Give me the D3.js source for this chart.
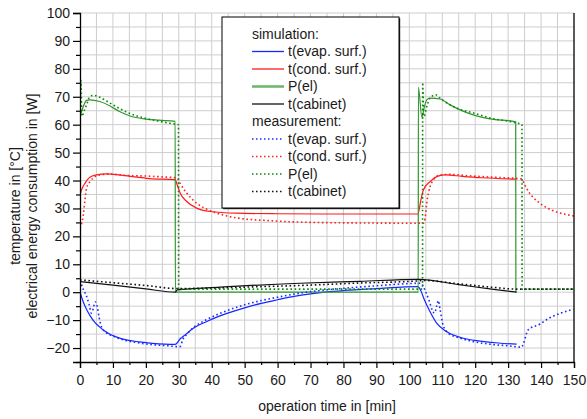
<!DOCTYPE html>
<html>
<head>
<meta charset="utf-8">
<script src="https://cdn.jsdelivr.net/npm/d3@7"></script>
<style>
  body { margin: 0; background: #fff; }
  svg text { font-family: "Liberation Sans", Arial, Helvetica, sans-serif; fill: #1a1a1a; }
</style>
</head>
<body>
<div id="chart"></div>
<script>
// [time in min, value]
const sim_evap = [[0,0],[1,-3.5],[2,-6.2],[3,-8.3],[4.5,-10.8],[6,-12.5],[7.5,-13.9],[9,-15],[11,-16],[14,-17.1],[18,-17.8],[22,-18.3],[28.9,-18.7],
  [30.5,-16.6],[32,-15.2],[34.4,-12.9],[38.5,-10.5],[42.5,-8.5],[50,-5.6],[55,-4],[60,-2.7],[65,-1.5],[70,-0.6],[75,0.1],[80,0.6],
  [90,1.3],[102.6,2],
  [103.5,0.5],[104.5,-2.5],[106.3,-7],[108.3,-11.1],[111.3,-14.1],[116.4,-16.5],[121.5,-17.5],[127,-18.2],[132.6,-18.6]]
const sim_cond = [[0,34.9],[0.7,37.3],[1.5,39],[3,41.2],[5,42],[8,42.4],[12,42],[16,41.4],[21,40.7],[28.9,40.3],[29.5,38.5],[30.4,35.5],
  [32.4,32.5],[35.4,30.1],[39.5,28.9],[47.6,28.3],[60,28.1],[80,28],[102.6,28],[103.5,33],[104.3,36.7],[106.3,39.6],[108.5,41.5],
  [111,42],[116,41.5],[122,41],[132.6,40.5]]
const sim_pel = [[0,62.9],[1,66.5],[2,68.7],[3,68.9],[6,68.3],[9,66.8],[12,64.7],[15,63.2],[20,62],[24,61.6],[28.9,61.2],[28.95,0],
  [102.7,0],[102.75,73.5],[103.8,62.7],[104.5,66],[105.3,68.9],[106.3,69.5],[109.3,69.2],[112.4,67.1],[115.4,65.3],[119.4,63.5],
  [124.5,62.1],[132.3,61],[132.35,0]]
const sim_cab = [[0,3.8],[10,2.5],[20,1.2],[28.9,0],[29.5,0.8],[42.5,1.8],[66.8,3.2],[85,3.9],[102.7,4.6],[115,2.7],[125,1.1],[132.6,0]]

const meas_evap = [[0,4.2],[1,1],[2,-1.5],[2.8,-4.5],[3.5,-7.5],[4,-6],[4.6,-3.5],[5.2,-5],[5.8,-9],[6.5,-12.3],[8,-14.5],[10,-15.7],
  [13,-17],[17,-18],[22,-18.8],[27,-19.2],[29.5,-19.5],[30.4,-19.5],[31.2,-17],[32.5,-15],[34.5,-12.6],[38.5,-9.8],[42.5,-7.6],
  [50,-4.5],[55,-3],[60,-1.8],[65,-0.7],[70,0.2],[80,1.4],[90,2.3],[103.5,3.2],[105,0],[106,-3],[107,-6.5],[107.6,-7.5],[108.3,-5],[108.8,-3],
  [109.3,-6],[110.3,-12],[112,-14.8],[115,-16.3],[120,-17.8],[125,-18.7],[130,-19.2],[134,-19.7],[136.1,-13.5],[139.7,-11.4],
  [142,-9.6],[145.8,-7.6],[149.8,-6.1]]
const meas_cond = [[0,23],[1,27.7],[1.5,33],[2,37.3],[3,39.6],[4,40.9],[6,42],[9,42.3],[14,41.8],[20,41.6],[25,41.3],[29.5,40.9],
  [30.4,39],[32.4,35.5],[35.4,31.9],[39.5,29.2],[43,27.8],[47.6,26.6],[57.7,25.6],[70,25],[85,24.8],[104.3,24.7],[104.8,26.5],
  [105.3,31.9],[106.3,37.8],[107.3,40.2],[109,41.8],[112,42.2],[118,41.7],[125,41.2],[134,40.6],[135,38.5],[136.5,35.5],
  [139.5,32],[143,29.5],[147,28],[150,27.3]]
const meas_pel = [[0,64],[0.25,76],[0.6,63],[1.2,64.8],[2,67.1],[3,70.1],[4,70.5],[6,69.8],[9,67.8],[14.2,64.5],[20.2,62.2],[25,61],[28.3,60.3],
  [29.9,60],[29.95,1.1],[104,1.1],[104.05,75.1],[104.4,62.9],[105.3,66.5],[106.3,69.5],[108,70.7],[109.3,69.5],[114.4,65.9],
  [119.4,64.2],[124.5,62.4],[132.6,60.6],[134.2,60],[134.25,1.1],[150,1.1]]
const meas_cab = [[0,4.4],[10,3.4],[20,2.4],[29.5,1.3],[40,1.5],[55,2],[66.8,2.4],[85,3.3],[102,4],[104.4,4.2],[115,3],[125,1.8],
  [132.6,1.1],[150,1.1]]

const series_names = ["t(evap. surf.)", "t(cond. surf.)", "P(el)", "t(cabinet)"]
const x_ticks = d3.range(0, 151, 10)
const y_ticks = d3.range(-20, 101, 10)

class CoolingChart {
  constructor(id) {
    this.width = 587
    this.height = 419
    this.margin = { left: 80, right: 13, top: 13, bottom: 57 }
    this.container = document.getElementById(id)
    this.colors = ["#1428ff", "#ff1a1a", "#2f962f", "#111111"]
    this.dot_colors = ["#1a2cff", "#ff2020", "#0a880a", "#111111"]
  }

  render() {
    console.log('- Init CoolingChart...')
    const svg = d3.select(this.container).append("svg")
      .attr("width", this.width)
      .attr("height", this.height)
    this.svg = svg
    this.x = d3.scaleLinear().domain([0, 150]).range([this.margin.left, this.width - this.margin.right])
    this.y = d3.scaleLinear().domain([-25, 100]).range([this.height - this.margin.bottom, this.margin.top])
    this.draw_grid()
    this.draw_lines()
    this.draw_axes()
    this.draw_legend()
    console.log('- Init CoolingChart [OK]')
  }

  draw_grid() {
    const x = this.x, y = this.y
    const grid = this.svg.append("g").attr("stroke", "#cdcdcd").attr("stroke-width", 1)
    d3.range(5, 150, 5).forEach(v => {
      grid.append("line").attr("x1", x(v)).attr("x2", x(v)).attr("y1", y(-25)).attr("y2", y(100))
    })
    d3.range(-20, 101, 5).forEach(v => {
      grid.append("line").attr("x1", x(0)).attr("x2", x(150)).attr("y1", y(v)).attr("y2", y(v))
    })
  }

  draw_lines() {
    const x = this.x, y = this.y
    this.svg.append("clipPath").attr("id", "plot_clip")
      .append("rect")
      .attr("x", x(0)).attr("y", y(100))
      .attr("width", x(150) - x(0)).attr("height", y(-25) - y(100))
    const line = d3.line().x(d => x(d[0])).y(d => y(d[1])).curve(d3.curveMonotoneX)
    const plot = this.svg.append("g").attr("clip-path", "url(#plot_clip)")

    const measured = [meas_evap, meas_cond, meas_pel, meas_cab]
    const simulated = [sim_evap, sim_cond, sim_pel, sim_cab]

    simulated.forEach((data, i) => {
      plot.append("path")
        .attr("d", line(data))
        .attr("fill", "none")
        .attr("stroke", this.colors[i])
        .attr("stroke-width", 1.2)
    })
    measured.forEach((data, i) => {
      plot.append("path")
        .attr("d", line(data))
        .attr("fill", "none")
        .attr("stroke", this.dot_colors[i])
        .attr("stroke-width", 1.6)
        .attr("stroke-dasharray", "1.6,2.6")
    })
  }

  draw_axes() {
    const x = this.x, y = this.y
    const bottom = this.svg.append("g").attr("transform", `translate(0,${y(-25)})`)
      .call(d3.axisBottom(x).tickValues(x_ticks).tickSize(6).tickPadding(7).tickFormat(d3.format("d")))
    bottom.append("g")
      .call(d3.axisBottom(x).tickValues(d3.range(5, 150, 10)).tickSize(3).tickFormat(""))
      .select(".domain").remove()
    const left = this.svg.append("g").attr("transform", `translate(${x(0)},0)`)
      .call(d3.axisLeft(y).tickValues(y_ticks).tickSize(7).tickPadding(3).tickFormat(d3.format("d")))
    left.append("g")
      .call(d3.axisLeft(y).tickValues(d3.range(-25, 100, 10)).tickSize(4).tickFormat(""))
      .select(".domain").remove()

    this.svg.selectAll(".domain").attr("stroke", "#000").attr("stroke-width", 1.3)
    this.svg.selectAll(".tick line").attr("stroke", "#000").attr("stroke-width", 1.2)
    this.svg.selectAll(".tick text").style("font-size", "14px").attr("fill", "#1a1a1a")

    // right frame
    this.svg.append("line")
      .attr("x1", x(150)).attr("x2", x(150)).attr("y1", y(-25)).attr("y2", y(100))
      .attr("stroke", "#000").attr("stroke-width", 1.3)

    this.svg.append("text")
      .attr("x", (x(0) + x(150)) / 2)
      .attr("y", 411)
      .attr("text-anchor", "middle")
      .style("font-size", "14px")
      .text("operation time in [min]")

    const mid = 206
    this.svg.append("text")
      .attr("transform", `translate(20,${mid}) rotate(-90)`)
      .attr("text-anchor", "middle")
      .style("font-size", "14px")
      .text("temperature in [°C]")
    this.svg.append("text")
      .attr("transform", `translate(37,${mid}) rotate(-90)`)
      .attr("text-anchor", "middle")
      .style("font-size", "14px")
      .text("electrical energy consumption in [W]")
  }

  draw_legend() {
    const box = { x: 222, y: 17, w: 177, h: 191 }
    const row_h = 17.5
    const first_row = 34
    const legend = this.svg.append("g").attr("class", "legend")
    legend.append("rect")
      .attr("x", box.x + 1.2).attr("y", box.y + 1.2)
      .attr("width", box.w).attr("height", box.h)
      .attr("fill", "#222")
    legend.append("rect")
      .attr("x", box.x).attr("y", box.y)
      .attr("width", box.w).attr("height", box.h)
      .attr("fill", "#fff")
      .attr("stroke", "#000")
      .attr("stroke-width", 1)

    const rows = []
    rows.push({ header: "simulation:" })
    series_names.forEach((name, i) => rows.push({ name: name, color: this.colors[i], dotted: false, idx: i }))
    rows.push({ header: "measurement:" })
    series_names.forEach((name, i) => rows.push({ name: name, color: this.dot_colors[i], dotted: true, idx: i }))

    rows.forEach((row, i) => {
      const cy = first_row + i * row_h
      if (row.header) {
        legend.append("text")
          .attr("x", 252).attr("y", cy).attr("dy", "0.35em")
          .style("font-size", "14px")
          .text(row.header)
        return
      }
      const sample = legend.append("line")
        .attr("x1", 252).attr("x2", 284).attr("y1", cy).attr("y2", cy)
        .attr("stroke", row.color)
      if (row.dotted) {
        sample.attr("stroke-width", 1.5).attr("stroke-dasharray", "1.5,2.5")
      } else if (row.idx == 2) {
        sample.attr("stroke", "#6fb86f").attr("stroke-width", 2.6)
      } else {
        sample.attr("stroke-width", 1.3)
      }
      legend.append("text")
        .attr("x", 288).attr("y", cy).attr("dy", "0.35em")
        .style("font-size", "14px")
        .text(row.name)
    })
  }
}

new CoolingChart("chart").render()
</script>
</body>
</html>
